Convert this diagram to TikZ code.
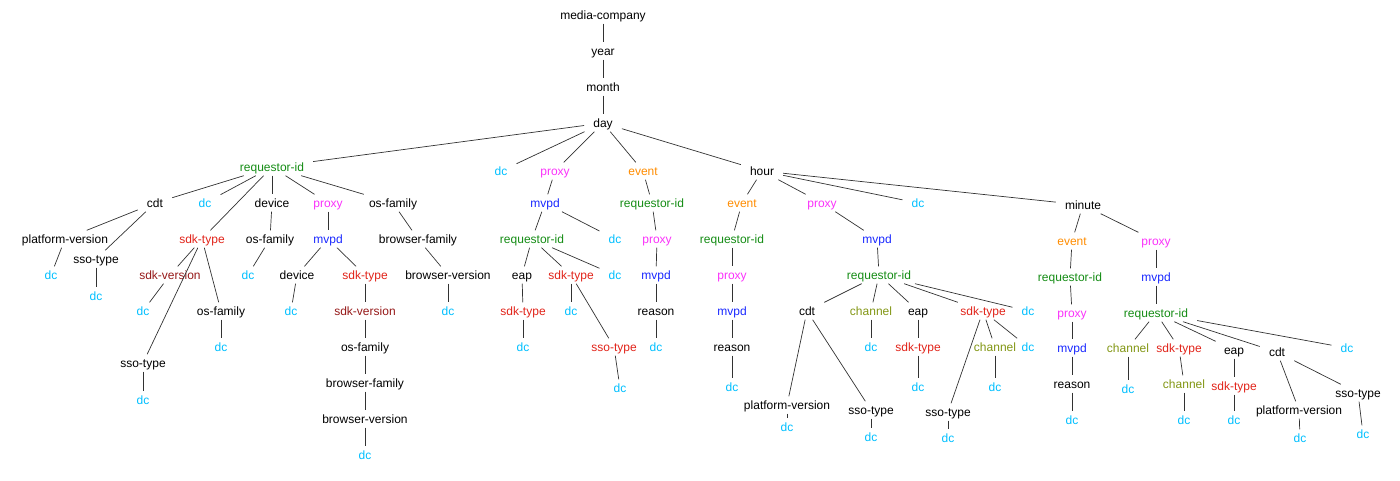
\documentclass[tikz,border=0pt]{standalone}
\usepackage{fontspec}
\setmainfont{Liberation Sans}
\definecolor{cdc}{RGB}{0,191,255}
\definecolor{cpx}{RGB}{250,50,250}
\definecolor{cmv}{RGB}{25,40,255}
\definecolor{crq}{RGB}{20,140,20}
\definecolor{cev}{RGB}{255,140,0}
\definecolor{csk}{RGB}{225,35,25}
\definecolor{csv}{RGB}{150,25,25}
\definecolor{cch}{RGB}{130,150,20}
\definecolor{cedge}{RGB}{50,50,50}
\tikzset{
  n/.style={inner xsep=9pt, inner ysep=0pt, minimum height=17pt,
    text height=8.5pt, text depth=0pt, font=\fontsize{12}{14}\selectfont, text=black},
  dcn/.style={n, text=cdc},
  pxn/.style={n, text=cpx},
  mvn/.style={n, text=cmv},
  rqn/.style={n, text=crq},
  evn/.style={n, text=cev},
  skn/.style={n, text=csk},
  svn/.style={n, text=csv},
  chn/.style={n, text=cch},
  edge/.style={draw=cedge, line width=0.7pt}
}
\begin{document}
\begin{tikzpicture}[x=1pt,y=-1pt]
\useasboundingbox (0,0) rectangle (1400,480);
% spine
\node[n] (mc) at (603,15) {media-company};
\node[n] (yr) at (603,51) {year};
\node[n] (mo) at (603,87) {month};
\node[n] (dy) at (603,123) {day};
% children of day
\node[rqn] (rq1) at (272,167) {requestor-id};
\node[dcn] (dc1) at (501,171) {dc};
\node[pxn] (px1) at (555,171) {proxy};
\node[evn] (ev1) at (643,171) {event};
\node[n]   (hr)  at (762,171) {hour};
% requestor-id branch
\node[n]   (cdt1) at (155,203) {cdt};
\node[dcn] (dc2)  at (205,203) {dc};
\node[skn] (sdk1) at (202,239) {sdk-type};
\node[n]   (dev1) at (272,203) {device};
\node[pxn] (px2)  at (328,203) {proxy};
\node[n]   (os1)  at (393,203) {os-family};
\node[n]   (pv1)  at (65,239) {platform-version};
\node[n]   (sso1) at (96,259) {sso-type};
\node[dcn] (dc3)  at (51,275) {dc};
\node[dcn] (dc4)  at (96,296) {dc};
\node[svn] (sv1)  at (170,275) {sdk-version};
\node[n]   (sso2) at (143,363) {sso-type};
\node[n]   (os2)  at (221,311) {os-family};
\node[dcn] (dc5)  at (143,311) {dc};
\node[dcn] (dc6)  at (221,347) {dc};
\node[dcn] (dc7)  at (143,400) {dc};
\node[n]   (os3)  at (270,239) {os-family};
\node[dcn] (dc8)  at (248,275) {dc};
\node[mvn] (mv1)  at (328,239) {mvpd};
\node[n]   (dev2) at (297,275) {device};
\node[dcn] (dc9)  at (291,311) {dc};
\node[skn] (sdk2) at (365,275) {sdk-type};
\node[svn] (sv2)  at (365,311) {sdk-version};
\node[n]   (os4)  at (365,347) {os-family};
\node[n]   (bf1)  at (365,383) {browser-family};
\node[n]   (bv1)  at (365,419) {browser-version};
\node[dcn] (dc10) at (365,455) {dc};
\node[n]   (bf2)  at (418,239) {browser-family};
\node[n]   (bv2)  at (448,275) {browser-version};
\node[dcn] (dc11) at (448,311) {dc};
% proxy branch
\node[mvn] (mv2)  at (545,203) {mvpd};
\node[rqn] (rq2)  at (532,239) {requestor-id};
\node[dcn] (dc12) at (615,239) {dc};
\node[n]   (eap1) at (522,275) {eap};
\node[skn] (sdk3) at (571,275) {sdk-type};
\node[dcn] (dc13) at (615,275) {dc};
\node[skn] (sdk4) at (523,311) {sdk-type};
\node[dcn] (dc14) at (523,347) {dc};
\node[dcn] (dc15) at (571,311) {dc};
\node[skn] (sso3) at (614,347) {sso-type};
\node[dcn] (dc16) at (620,388) {dc};
% event branch
\node[rqn] (rq3)  at (652,203) {requestor-id};
\node[pxn] (px3)  at (657,239) {proxy};
\node[mvn] (mv3)  at (656,275) {mvpd};
\node[n]   (rs1)  at (656,311) {reason};
\node[dcn] (dc17) at (656,347) {dc};
% hour branch
\node[evn] (ev2)  at (742,203) {event};
\node[pxn] (px4)  at (822,203) {proxy};
\node[dcn] (dc18) at (918,203) {dc};
\node[n]   (mn)   at (1083,205) {minute};
\node[rqn] (rq4)  at (732,239) {requestor-id};
\node[pxn] (px5)  at (732,275) {proxy};
\node[mvn] (mv4)  at (732,311) {mvpd};
\node[n]   (rs2)  at (732,347) {reason};
\node[dcn] (dc19) at (732,387) {dc};
\node[mvn] (mv5)  at (877,239) {mvpd};
\node[rqn] (rq5)  at (879,275) {requestor-id};
\node[n]   (cdt2) at (807,311) {cdt};
\node[chn] (ch1)  at (871,311) {channel};
\node[n]   (eap2) at (918,311) {eap};
\node[skn] (sdk5) at (983,311) {sdk-type};
\node[dcn] (dc20) at (1028,311) {dc};
\node[n]   (pv2)  at (787,405) {platform-version};
\node[dcn] (dc21) at (787,427) {dc};
\node[n]   (sso4) at (871,410) {sso-type};
\node[dcn] (dc22) at (871,437) {dc};
\node[dcn] (dc23) at (871,347) {dc};
\node[skn] (sdk6) at (918,347) {sdk-type};
\node[dcn] (dc24) at (918,387) {dc};
\node[n]   (sso5) at (948,412) {sso-type};
\node[dcn] (dc25) at (948,438) {dc};
\node[chn] (ch2)  at (995,347) {channel};
\node[dcn] (dc26) at (995,387) {dc};
\node[dcn] (dc27) at (1028,347) {dc};
% minute branch
\node[evn] (ev3)  at (1072,241) {event};
\node[rqn] (rq6)  at (1070,277) {requestor-id};
\node[pxn] (px6)  at (1072,313) {proxy};
\node[mvn] (mv6)  at (1072,348) {mvpd};
\node[n]   (rs3)  at (1072,384) {reason};
\node[dcn] (dc28) at (1072,420) {dc};
\node[pxn] (px7)  at (1156,241) {proxy};
\node[mvn] (mv7)  at (1156,277) {mvpd};
\node[rqn] (rq7)  at (1156,313) {requestor-id};
\node[chn] (ch3)  at (1128,348) {channel};
\node[dcn] (dc29) at (1128,389) {dc};
\node[skn] (sdk7) at (1179,348) {sdk-type};
\node[chn] (ch4)  at (1184,384) {channel};
\node[dcn] (dc30) at (1184,420) {dc};
\node[n]   (eap3) at (1234,350) {eap};
\node[skn] (sdk8) at (1234,386) {sdk-type};
\node[dcn] (dc31) at (1234,420) {dc};
\node[n]   (cdt3) at (1277,352) {cdt};
\node[n]   (pv3)  at (1299,410) {platform-version};
\node[dcn] (dc32) at (1300,438) {dc};
\node[n]   (sso6) at (1358,393) {sso-type};
\node[dcn] (dc33) at (1363,434) {dc};
\node[dcn] (dc34) at (1347,348) {dc};
% connectors
\foreach \a/\b in {mc/yr, yr/mo, mo/dy,
  dy/rq1, dy/dc1, dy/px1, dy/ev1, dy/hr,
  rq1/cdt1, rq1/dc2, rq1/sdk1, rq1/dev1, rq1/px2, rq1/os1,
  cdt1/pv1, cdt1/sso1, pv1/dc3, sso1/dc4,
  sdk1/sv1, sdk1/sso2, sdk1/os2, sv1/dc5, os2/dc6, sso2/dc7,
  dev1/os3, os3/dc8,
  px2/mv1, mv1/dev2, dev2/dc9, mv1/sdk2, sdk2/sv2, sv2/os4, os4/bf1, bf1/bv1, bv1/dc10,
  os1/bf2, bf2/bv2, bv2/dc11,
  px1/mv2, mv2/rq2, mv2/dc12, rq2/eap1, rq2/sdk3, rq2/dc13,
  eap1/sdk4, sdk4/dc14, sdk3/dc15, sdk3/sso3, sso3/dc16,
  ev1/rq3, rq3/px3, px3/mv3, mv3/rs1, rs1/dc17,
  hr/ev2, hr/px4, hr/dc18, hr/mn,
  ev2/rq4, rq4/px5, px5/mv4, mv4/rs2, rs2/dc19,
  px4/mv5, mv5/rq5, rq5/cdt2, rq5/ch1, rq5/eap2, rq5/sdk5, rq5/dc20,
  cdt2/pv2, pv2/dc21, cdt2/sso4, sso4/dc22, ch1/dc23,
  eap2/sdk6, sdk6/dc24, sdk5/sso5, sso5/dc25, sdk5/ch2, ch2/dc26, sdk5/dc27,
  mn/ev3, ev3/rq6, rq6/px6, px6/mv6, mv6/rs3, rs3/dc28,
  mn/px7, px7/mv7, mv7/rq7, rq7/ch3, ch3/dc29, rq7/sdk7, sdk7/ch4, ch4/dc30,
  rq7/eap3, eap3/sdk8, sdk8/dc31, rq7/cdt3, cdt3/pv3, pv3/dc32, cdt3/sso6, sso6/dc33, rq7/dc34}
  \draw[edge] (\a) -- (\b);
\end{tikzpicture}
\end{document}
